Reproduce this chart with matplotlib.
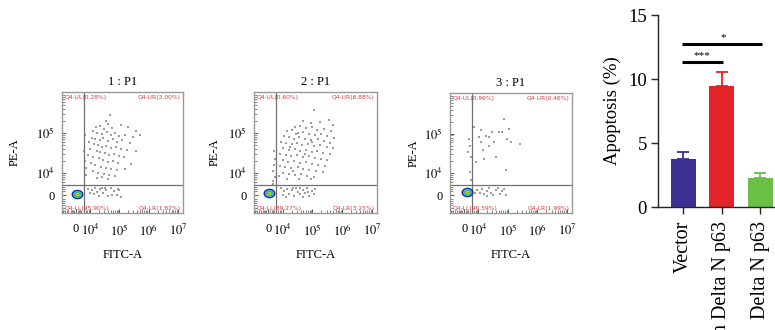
import numpy as np
import matplotlib
matplotlib.use("Agg")
import matplotlib.pyplot as plt
from matplotlib.path import Path
from matplotlib.ticker import SymmetricalLogLocator, NullFormatter

plt.rcParams["font.family"] = ["Liberation Serif", "DejaVu Serif"]
plt.rcParams["mathtext.fontset"] = "stix"

# ---- flow cytometry panels ----
PANEL_TITLES = ["1 : P1", "2 : P1", "3 : P1"]
QUAD_TEXT = [
    ["Q4-UL(0.28%)", "Q4-UR(2.00%)", "Q4-LL(95.90%)", "Q4-LR(1.82%)"],
    ["Q4-UL(0.60%)", "Q4-UR(6.88%)", "Q4-LL(89.27%)", "Q4-LR(3.25%)"],
    ["Q4-UL(0.96%)", "Q4-UR(0.46%)", "Q4-LL(96.59%)", "Q4-LR(1.99%)"],
]
GATE_X = 6150   # FITC gate
GATE_Y = 5000   # PE gate

# scattered events above the PE gate, log10(FITC), log10(PE)
P1_HI = [(4.67,5.45),(4.55,5.30),(4.62,5.22),(4.20,5.15),(4.35,5.18),(4.48,5.10),(4.75,5.12),(5.05,5.20),
         (5.30,5.15),(5.55,5.05),(4.10,5.05),(4.25,5.00),(4.40,4.98),(4.58,5.02),(4.70,4.95),(4.85,5.00),
         (5.00,4.92),(5.20,4.95),(5.45,4.90),(5.70,4.95),(4.05,4.88),(4.18,4.85),(4.32,4.82),(4.45,4.88),
         (4.60,4.80),(4.78,4.84),(4.92,4.78),(5.10,4.82),(5.35,4.75),(3.95,4.78),(4.12,4.72),(4.28,4.70),
         (4.40,4.65),(4.55,4.68),(4.70,4.62),(4.88,4.66),(5.05,4.60),(5.25,4.58),(5.55,4.55),(4.00,4.60),
         (4.22,4.55),(4.35,4.52),(4.50,4.50),(4.65,4.45),(4.82,4.48),(5.00,4.42),(5.15,4.40),(3.92,4.45),
         (4.08,4.40),(4.30,4.38),(4.45,4.32),(4.62,4.28),(4.78,4.30),(4.95,4.25),(5.40,4.22),(4.02,4.25),
         (4.18,4.20),(4.38,4.15),(4.55,4.12),(4.72,4.10),(4.90,4.08),(5.20,4.10),(3.85,4.12),(4.10,4.05),
         (4.28,4.00),(4.48,3.98),(4.65,3.95),(4.85,3.92),(3.82,4.30),(3.80,4.55),(3.84,4.95),(3.86,3.95),
         (4.25,3.88),(4.60,3.85),(4.40,3.90)]
P2_HI = [(5.06,5.57),(4.70,5.30),(4.95,5.25),(5.25,5.28),(5.55,5.32),(5.70,5.20),(4.40,5.15),(4.58,5.18),
         (4.80,5.12),(5.00,5.15),(5.15,5.08),(5.40,5.10),(5.62,5.05),(4.15,5.05),(4.30,5.08),(4.50,5.00),
         (4.68,5.02),(4.88,4.98),(5.08,4.95),(5.30,4.98),(5.50,4.92),(5.72,4.88),(4.05,4.92),(4.22,4.90),
         (4.38,4.86),(4.55,4.90),(4.75,4.85),(4.95,4.82),(5.18,4.85),(5.38,4.80),(5.60,4.75),(3.95,4.78),
         (4.12,4.75),(4.30,4.72),(4.48,4.76),(4.65,4.70),(4.85,4.72),(5.05,4.68),(5.25,4.70),(5.48,4.65),
         (5.68,4.62),(4.02,4.62),(4.20,4.58),(4.40,4.60),(4.58,4.55),(4.78,4.58),(4.98,4.52),(5.15,4.55),
         (5.35,4.50),(5.58,4.48),(3.92,4.48),(4.10,4.45),(4.28,4.42),(4.48,4.45),(4.68,4.40),(4.88,4.42),
         (5.08,4.38),(5.28,4.35),(5.50,4.32),(4.00,4.32),(4.18,4.28),(4.38,4.30),(4.58,4.25),(4.78,4.28),
         (4.98,4.22),(5.20,4.20),(5.42,4.18),(3.90,4.18),(4.08,4.15),(4.28,4.12),(4.50,4.15),(4.70,4.10),
         (4.90,4.08),(5.12,4.05),(5.35,4.02),(4.00,4.00),(4.20,3.98),(4.42,3.95),(4.62,3.98),(4.82,3.92),
         (5.05,3.90),(4.15,3.85),(4.55,3.86),(4.95,3.84),(3.88,3.92),(4.35,4.05),(4.75,4.48),(4.25,4.65),
         (5.00,4.78),(4.45,4.98),(3.72,4.55),(3.75,4.35),(3.70,4.20),(3.68,4.05),(3.74,3.90),(3.65,3.80),
         (3.62,3.72)]
P3_HI = [(5.03,5.12),(4.70,5.05),(4.45,5.05),(4.25,4.95),(4.01,4.91),(4.09,4.78),(3.64,4.87),(3.70,4.70),
         (3.59,4.53),(3.75,4.41),(4.14,4.58),(4.36,4.70),(4.53,4.78),(4.97,4.87),(5.09,4.78),(5.42,4.74),
         (4.20,4.37),(4.59,4.41),(4.94,4.08),(3.92,4.28),(3.70,4.03),(3.75,3.82),(4.86,5.37),(4.36,4.91),
         (4.81,5.03),(4.09,5.08),(3.86,5.16)]

# events below the PE gate: log10(FITC), PE (linear)
P1_LO = [(3.92,3200),(4.05,2500),(4.15,3400),(4.25,1500),(4.35,2900),(4.45,800),(4.55,2600),(4.62,-300),
         (4.70,3300),(4.80,1800),(4.90,200),(5.00,2400),(5.05,-800),(4.12,600),(4.30,-500),(4.52,3500),
         (4.75,-200),(4.95,3100),(3.98,1000),(4.40,3600)]
P2_LO = [(3.95,3300),(4.05,2000),(4.15,3000),(4.22,600),(4.30,2600),(4.38,-400),(4.45,3400),(4.52,1500),
         (4.60,300),(4.68,2700),(4.75,1000),(4.82,3500),(4.90,-600),(4.98,2200),(5.05,500),(5.10,3200),
         (4.10,-900),(4.35,3600),(4.58,3300),(4.85,1700),(4.00,200),(4.70,-1000)]
P3_LO = [(3.95,2600),(4.05,1300),(4.12,3300),(4.20,500),(4.28,2300),(4.35,3500),(4.42,1200),(4.50,0),
         (4.58,2500),(4.65,3400),(4.72,800),(4.80,2000),(4.88,3000),(4.95,300),(3.90,900),(4.30,-500)]

PANEL_HI = [P1_HI, P2_HI, P3_HI]
PANEL_LO = [P1_LO, P2_LO, P3_LO]

# dense double-negative population
BLOB_X = [950, 950, 2800]
BLOB_Y = [500, 1000, 1500]

# ---- bar chart ----
GROUPS = ["Vector", "sh Delta N p63", "Delta N p63"]
MEANS = [3.75, 9.45, 2.25]
ERRS = [0.55, 1.10, 0.40]
BAR_COLORS = ["#3b2f8f", "#e32428", "#6cbf45"]
SIG = [(0, 1, 11.33, "***"), (0, 2, 12.73, "*")]

W, H = 775, 330
fig = plt.figure(figsize=(W / 100, H / 100), dpi=100)


def px_axes(x0, y0, x1, y1):
    return fig.add_axes([x0 / W, 1 - y1 / H, (x1 - x0) / W, (y1 - y0) / H])


ellipse = np.linspace(0, 2 * np.pi, 60)
blob_marker = Path(np.column_stack([1.25 * np.cos(ellipse), np.sin(ellipse)]))
blob_colors = ["#1c2aa8", "#35b5ee", "#3fc24a", "#eee227", "#e0402a"]
blob_sizes = [12, 9, 6.5, 3.5, 1.6]

frames = [(62, 92, 183, 213), (254, 92, 377, 213), (450, 93, 572, 213)]
ylabel_x = [-0.39, -0.32, -0.30]

for i, (x0, y0, x1, y1) in enumerate(frames):
    ax = px_axes(x0, y0, x1, y1)
    ax.set_xscale("symlog", linthresh=5000, linscale=0.162)
    ax.set_yscale("symlog", linthresh=5000, linscale=0.225)
    ax.set_xlim(-1e4, 1.48e7)
    ax.set_ylim(-7900, 1.06e6)

    hi = np.array(PANEL_HI[i])
    lo = np.array(PANEL_LO[i])
    ax.scatter(10 ** hi[:, 0], 10 ** hi[:, 1], s=0.6, marker="s", lw=0, color="#9c9c9c")
    ax.scatter(10 ** lo[:, 0], lo[:, 1], s=0.6, marker="s", lw=0, color="#9c9c9c")
    for c, d in zip(blob_colors, blob_sizes):
        ax.scatter([BLOB_X[i]], [BLOB_Y[i]], s=(d * 0.72) ** 2, marker=blob_marker,
                   color=c, lw=0, zorder=3)

    ax.axvline(GATE_X, color="#707070", lw=0.9)
    ax.axhline(GATE_Y, color="#707070", lw=0.9)

    ax.set_xticks([0, 1e4, 1e5, 1e6, 1e7])
    ax.set_xticklabels(["0", "$10^4$", "$10^5$", "$10^6$", "$10^7$"])
    ax.set_yticks([0, 1e4, 1e5])
    ax.set_yticklabels(["0", "$10^4$", "$10^5$"])
    ax.xaxis.set_minor_locator(SymmetricalLogLocator(linthresh=5000, base=10, subs=np.arange(2, 10)))
    ax.yaxis.set_minor_locator(SymmetricalLogLocator(linthresh=5000, base=10, subs=np.arange(2, 10)))
    ax.xaxis.set_minor_formatter(NullFormatter())
    ax.yaxis.set_minor_formatter(NullFormatter())
    ax.tick_params(which="major", direction="in", length=3, width=0.7, color="#555",
                   labelsize=9, pad=7)
    ax.tick_params(which="minor", direction="in", length=2, width=0.5, color="#555")
    ax.tick_params(axis="y", which="major", pad=5)
    for sp in ax.spines.values():
        sp.set_color("#999999")
        sp.set_linewidth(1.0)

    ax.set_title(PANEL_TITLES[i], fontsize=9, pad=5)
    ax.set_xlabel("FITC-A", fontsize=9)
    ax.set_ylabel("PE-A", fontsize=9)
    ax.xaxis.set_label_coords(0.5, -0.35)
    ax.xaxis.label.set_va("center")
    ax.yaxis.set_label_coords(ylabel_x[i], 0.5)
    ax.yaxis.label.set_va("center")

    ul, ur, ll, lr = QUAD_TEXT[i]
    qk = dict(transform=ax.transAxes, fontsize=4.3, color="#d0393b", family="DejaVu Sans")
    ax.text(0.02, 0.975, ul, ha="left", va="top", **qk)
    ax.text(0.98, 0.975, ur, ha="right", va="top", **qk)
    ax.text(0.02, 0.02, ll, ha="left", va="bottom", **qk)
    ax.text(0.98, 0.02, lr, ha="right", va="bottom", **qk)

# ---- apoptosis bars ----
bx = px_axes(658, 15, 787, 207)
xpos = np.arange(len(GROUPS))
bx.bar(xpos, MEANS, width=0.65, color=BAR_COLORS, zorder=2)
for x, m, e, c in zip(xpos, MEANS, ERRS, BAR_COLORS):
    bx.errorbar(x, m, yerr=[[0], [e]], color=c, capsize=4.5, elinewidth=1.3,
                capthick=1.3, zorder=1)
bx.set_xlim(-0.65, 2.7)
bx.set_ylim(0, 15)
bx.set_yticks([0, 5, 10, 15])
bx.set_xticks(xpos)
bx.set_xticklabels(GROUPS, rotation=90, va="top", ha="center")
bx.tick_params(axis="both", length=5, width=1.0, color="#222")
bx.tick_params(axis="y", pad=3, labelsize=13.5)
bx.tick_params(axis="x", pad=5, labelsize=14.5)
bx.set_ylabel("Apoptosis (%)", fontsize=13.5, labelpad=5)
for side in ("top", "right"):
    bx.spines[side].set_visible(False)
for side in ("left", "bottom"):
    bx.spines[side].set_linewidth(1.0)
    bx.spines[side].set_color("#222")

for a, b, y, star in SIG:
    bx.plot([a - 0.03, b + 0.05], [y, y], color="black", lw=2.2, solid_capstyle="butt")
    bx.text((a + b) / 2 if b == 1 else 1.05, y + 0.15, star, ha="center", va="bottom", fontsize=8)

fig.savefig("out.png", dpi=100)
